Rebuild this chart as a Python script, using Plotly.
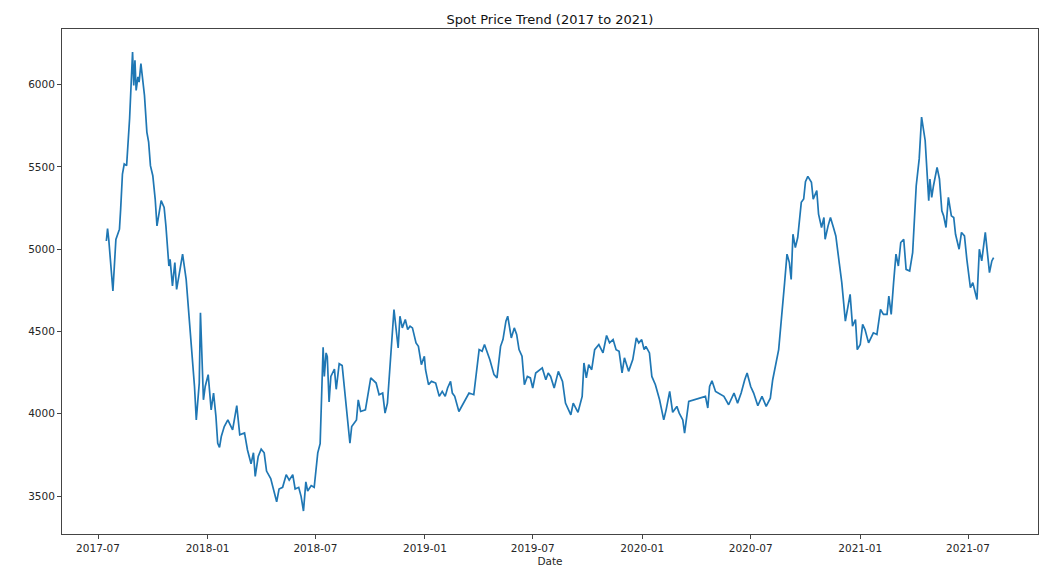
import pandas as pd
import plotly.graph_objects as go

# Spot price series
dates = [
    "2017-07-15", "2017-07-17", "2017-07-19", "2017-07-26", "2017-07-31", "2017-08-06", "2017-08-08",
    "2017-08-11", "2017-08-14", "2017-08-18", "2017-08-23", "2017-08-28", "2017-08-30", "2017-09-01",
    "2017-09-03", "2017-09-06", "2017-09-08", "2017-09-11", "2017-09-17", "2017-09-21", "2017-09-24",
    "2017-09-27", "2017-10-01", "2017-10-05", "2017-10-08", "2017-10-12", "2017-10-15", "2017-10-20",
    "2017-10-23", "2017-10-28", "2017-10-30", "2017-11-03", "2017-11-07", "2017-11-10", "2017-11-15",
    "2017-11-20", "2017-11-26", "2017-12-04", "2017-12-10", "2017-12-13", "2017-12-18", "2017-12-20",
    "2017-12-25", "2017-12-28", "2018-01-02", "2018-01-07", "2018-01-11", "2018-01-15", "2018-01-18",
    "2018-01-21", "2018-01-24", "2018-01-29", "2018-02-04", "2018-02-12", "2018-02-18", "2018-02-19",
    "2018-02-24", "2018-03-04", "2018-03-09", "2018-03-15", "2018-03-19", "2018-03-22", "2018-03-27",
    "2018-04-01", "2018-04-06", "2018-04-10", "2018-04-17", "2018-04-21", "2018-04-27", "2018-05-01",
    "2018-05-07", "2018-05-13", "2018-05-18", "2018-05-24", "2018-05-28", "2018-06-03", "2018-06-07",
    "2018-06-11", "2018-06-15", "2018-06-18", "2018-06-24", "2018-06-29", "2018-07-05", "2018-07-09",
    "2018-07-14", "2018-07-16", "2018-07-19", "2018-07-21", "2018-07-24", "2018-07-27", "2018-08-02",
    "2018-08-05", "2018-08-10", "2018-08-15", "2018-08-24", "2018-08-28", "2018-08-31", "2018-09-08",
    "2018-09-11", "2018-09-15", "2018-09-23", "2018-10-02", "2018-10-11", "2018-10-16", "2018-10-22",
    "2018-10-26", "2018-10-30", "2018-11-05", "2018-11-10", "2018-11-17", "2018-11-20", "2018-11-24",
    "2018-11-29", "2018-12-03", "2018-12-07", "2018-12-11", "2018-12-17", "2018-12-21", "2018-12-26",
    "2018-12-31", "2019-01-02", "2019-01-07", "2019-01-12", "2019-01-19", "2019-01-25", "2019-01-30",
    "2019-02-04", "2019-02-08", "2019-02-13", "2019-02-16", "2019-02-20", "2019-02-27", "2019-03-08",
    "2019-03-16", "2019-03-24", "2019-03-28", "2019-04-02", "2019-04-07", "2019-04-11", "2019-04-16",
    "2019-04-20", "2019-04-27", "2019-05-02", "2019-05-08", "2019-05-12", "2019-05-17", "2019-05-20",
    "2019-05-26", "2019-05-31", "2019-06-04", "2019-06-08", "2019-06-13", "2019-06-17", "2019-06-22",
    "2019-06-27", "2019-07-01", "2019-07-06", "2019-07-17", "2019-07-23", "2019-07-27", "2019-07-31",
    "2019-08-06", "2019-08-13", "2019-08-20", "2019-08-25", "2019-09-03", "2019-09-07", "2019-09-15",
    "2019-09-22", "2019-09-25", "2019-09-29", "2019-10-03", "2019-10-08", "2019-10-13", "2019-10-20",
    "2019-10-27", "2019-11-02", "2019-11-07", "2019-11-13", "2019-11-18", "2019-11-23", "2019-11-28",
    "2019-12-02", "2019-12-09", "2019-12-16", "2019-12-22", "2019-12-26", "2019-12-31", "2020-01-04",
    "2020-01-07", "2020-01-13", "2020-01-17", "2020-01-23", "2020-01-30", "2020-02-06", "2020-02-10",
    "2020-02-16", "2020-02-21", "2020-02-28", "2020-03-03", "2020-03-09", "2020-03-12", "2020-03-19",
    "2020-04-16", "2020-04-20", "2020-04-23", "2020-04-27", "2020-05-03", "2020-05-17", "2020-05-25",
    "2020-06-03", "2020-06-09", "2020-06-15", "2020-06-21", "2020-06-25", "2020-07-01", "2020-07-06",
    "2020-07-13", "2020-07-20", "2020-07-27", "2020-08-03", "2020-08-07", "2020-08-12", "2020-08-17",
    "2020-08-27", "2020-08-31", "2020-09-04", "2020-09-07", "2020-09-10", "2020-09-14", "2020-09-18",
    "2020-09-24", "2020-09-28", "2020-10-01", "2020-10-05", "2020-10-11", "2020-10-14", "2020-10-18",
    "2020-10-20", "2020-10-23", "2020-10-28", "2020-11-01", "2020-11-03", "2020-11-08", "2020-11-12",
    "2020-11-17", "2020-11-21", "2020-11-27", "2020-12-01", "2020-12-07", "2020-12-11", "2020-12-15",
    "2020-12-19", "2020-12-24", "2020-12-27", "2021-01-01", "2021-01-05", "2021-01-09", "2021-01-15",
    "2021-01-23", "2021-01-29", "2021-02-04", "2021-02-09", "2021-02-15", "2021-02-18", "2021-02-22",
    "2021-02-26", "2021-03-02", "2021-03-06", "2021-03-10", "2021-03-15", "2021-03-19", "2021-03-25",
    "2021-03-30", "2021-04-05", "2021-04-10", "2021-04-14", "2021-04-20", "2021-04-26", "2021-04-28",
    "2021-05-01", "2021-05-04", "2021-05-10", "2021-05-14", "2021-05-18", "2021-05-21", "2021-05-25",
    "2021-05-29", "2021-06-03", "2021-06-07", "2021-06-10", "2021-06-16", "2021-06-20", "2021-06-25",
    "2021-06-29", "2021-07-05", "2021-07-09", "2021-07-16", "2021-07-20", "2021-07-24", "2021-07-30",
    "2021-08-03", "2021-08-06", "2021-08-10", "2021-08-13",
]

prices = [
    5050, 5126, 5060, 4746, 5060, 5122, 5244,
    5457, 5518, 5508, 5793, 6199, 5996, 6148,
    5965, 6047, 6016, 6128, 5935, 5712, 5651,
    5508, 5447, 5305, 5142, 5244, 5295, 5254,
    5142, 4898, 4939, 4777, 4919, 4756, 4858,
    4970, 4817, 4451, 4166, 3963, 4187, 4614,
    4085, 4166, 4238, 4024, 4126, 3984, 3821,
    3796, 3862, 3923, 3963, 3902, 4045, 4050,
    3873, 3884, 3780, 3696, 3763, 3620, 3741,
    3785, 3763, 3652, 3607, 3543, 3465, 3543,
    3553, 3630, 3597, 3630, 3543, 3553, 3498,
    3409, 3586, 3531, 3564, 3553, 3763, 3818,
    4404, 4227, 4370, 4348, 4072, 4227, 4271,
    4149, 4304, 4293, 3984, 3821, 3923, 3963,
    4085, 4014, 4024, 4218, 4187, 4116, 4126,
    4004, 4065, 4390, 4634, 4400, 4593, 4522,
    4573, 4512, 4532, 4522, 4431, 4410, 4299,
    4350, 4268, 4177, 4197, 4187, 4106, 4136,
    4106, 4157, 4197, 4126, 4106, 4014, 4075,
    4126, 4116, 4227, 4390, 4380, 4421, 4370,
    4329, 4238, 4218, 4410, 4451, 4563, 4593,
    4461, 4522, 4482, 4390, 4350, 4177, 4227,
    4218, 4157, 4248, 4279, 4207, 4248, 4227,
    4157, 4258, 4197, 4065, 3994, 4065, 4009,
    4106, 4309, 4218, 4299, 4268, 4390, 4421,
    4370, 4476, 4431, 4451, 4390, 4380, 4248,
    4340, 4258, 4329, 4461, 4431, 4451, 4390,
    4410, 4370, 4227, 4177, 4085, 3963, 4024,
    4136, 4009, 4045, 4004, 3963, 3882, 4075,
    4106, 4035, 4166, 4201, 4136, 4106, 4055,
    4126, 4065, 4126, 4207, 4248, 4166, 4126,
    4049, 4106, 4045, 4095, 4207, 4289, 4390,
    4797, 4970, 4919, 4817, 5091, 5010, 5071,
    5285, 5305, 5411, 5443, 5407, 5305, 5346,
    5356, 5213, 5132, 5193, 5061, 5142, 5193,
    5132, 5081, 4909, 4797, 4563, 4644, 4726,
    4533, 4573, 4390, 4421, 4543, 4512, 4431,
    4492, 4482, 4634, 4604, 4604, 4715, 4604,
    4797, 4970, 4898, 5041, 5061, 4878, 4868,
    4980, 5386, 5549, 5803, 5661, 5295, 5427,
    5315, 5386, 5498, 5427, 5234, 5203, 5132,
    5315, 5203, 5193, 5091, 5000, 5102, 5081,
    4939, 4766, 4797, 4695, 5000, 4929, 5102,
    4939, 4858, 4929, 4949,
]

x_ticks = ["2017-07-01", "2018-01-01", "2018-07-01", "2019-01-01", "2019-07-01",
           "2020-01-01", "2020-07-01", "2021-01-01", "2021-07-01"]
x_tick_labels = ["2017-07", "2018-01", "2018-07", "2019-01", "2019-07",
                 "2020-01", "2020-07", "2021-01", "2021-07"]
y_ticks = [3500, 4000, 4500, 5000, 5500, 6000]

title_text = "Spot Price Trend (2017 to 2021)"
x_title = "Date"

d = pd.to_datetime(dates)
span = d.max() - d.min()
x_range = [d.min() - span * 0.05, d.max() + span * 0.05]
vspan = max(prices) - min(prices)
y_range = [min(prices) - vspan * 0.05, max(prices) + vspan * 0.05]

font_family = "DejaVu Sans"
txt_color = "#262626"

fig = go.Figure()
fig.add_trace(go.Scatter(
    x=d, y=prices, mode="lines",
    line=dict(color="#1f77b4", width=1.7),
    showlegend=False, hoverinfo="skip",
))

axis_common = dict(
    showgrid=False, zeroline=False,
    showline=True, linecolor="#444444", linewidth=1, mirror=True,
    ticks="outside", ticklen=4, tickwidth=1, tickcolor="#444444",
    tickfont=dict(family=font_family, size=10.5, color=txt_color),
    automargin=False,
)

fig.update_layout(
    template="none",
    width=1043, height=568,
    margin=dict(l=62, r=5, t=29, b=34),
    paper_bgcolor="white", plot_bgcolor="white",
    title=dict(text=title_text, x=550 / 1043, xanchor="center",
               y=1 - 19 / 568, yanchor="middle", yref="container", xref="container",
               font=dict(family=font_family, size=13, color="#111111")),
    xaxis=dict(axis_common, range=x_range, tickvals=pd.to_datetime(x_ticks),
               ticktext=x_tick_labels,
               title=dict(text=x_title, standoff=5,
                          font=dict(family=font_family, size=10.5, color=txt_color))),
    yaxis=dict(axis_common, range=y_range, tickvals=y_ticks,
               ticktext=[str(v) for v in y_ticks]),
)

fig.write_html(
    "out.html",
    config={"displayModeBar": False, "staticPlot": True},
    post_script="document.body.style.margin='0';document.body.style.overflow='hidden';",
)
